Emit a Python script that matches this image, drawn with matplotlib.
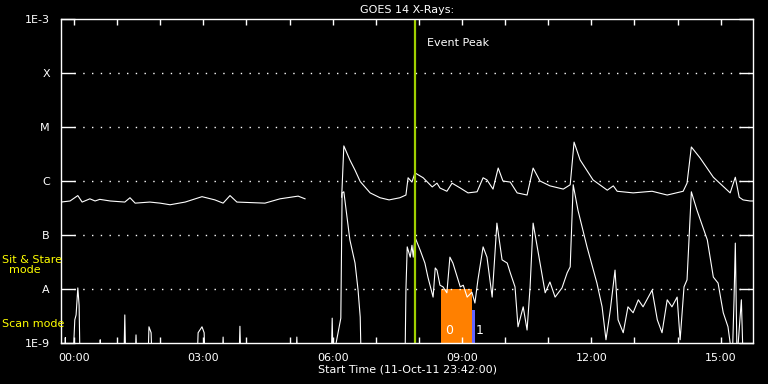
import numpy as np
import matplotlib
matplotlib.use("Agg")
import matplotlib.pyplot as plt
import matplotlib.patches as patches

# hours after 00:00 on 12-Oct (start is 23:42 the day before)
long_t1 = [-0.30, -0.09, 0.09, 0.19, 0.37, 0.49, 0.60, 0.84, 1.18, 1.30, 1.42, 1.76, 2.00,
           2.23, 2.58, 2.97, 3.27, 3.46, 3.62, 3.78, 4.43, 4.78, 5.20, 5.36]
long_f1 = [-6.39, -6.37, -6.27, -6.39, -6.33, -6.37, -6.34, -6.37, -6.39, -6.31, -6.41, -6.39, -6.41,
           -6.44, -6.39, -6.29, -6.35, -6.41, -6.27, -6.39, -6.41, -6.33, -6.28, -6.33]

long_t2 = [6.21, 6.26, 6.40, 6.52, 6.64, 6.87, 7.10, 7.31, 7.56, 7.70, 7.75, 7.84, 7.91, 8.10,
           8.31, 8.42, 8.49, 8.65, 8.77, 8.96, 9.14, 9.35, 9.49, 9.58, 9.72, 9.84, 9.95, 10.12,
           10.28, 10.51, 10.65, 10.81, 11.04, 11.35, 11.51, 11.60, 11.74, 12.04, 12.37, 12.51,
           12.60, 12.97, 13.41, 13.76, 14.13, 14.22, 14.32, 14.52, 14.83, 15.22, 15.34, 15.43,
           15.52, 15.68, 15.75]
long_f2 = [-6.30, -5.35, -5.61, -5.80, -6.01, -6.22, -6.31, -6.35, -6.31, -6.26, -5.94, -6.02,
           -5.85, -5.94, -6.11, -6.04, -6.13, -6.19, -6.04, -6.13, -6.22, -6.20, -5.94, -5.98,
           -6.15, -5.76, -6.00, -6.02, -6.22, -6.26, -5.76, -6.00, -6.09, -6.15, -6.07, -5.28,
           -5.61, -5.98, -6.17, -6.09, -6.19, -6.22, -6.19, -6.26, -6.19, -6.04, -5.37, -5.57,
           -5.93, -6.22, -5.93, -6.30, -6.35, -6.37, -6.37]

# short channel, -9.3 = below the plot floor
short_t = [-0.30, -0.21, -0.20, -0.19, -0.02, 0.02, 0.05, 0.09, 0.12, 0.14, 0.60, 0.61, 0.62,
           1.16, 1.18, 1.20, 1.42, 1.44, 1.46, 1.72, 1.74, 1.79, 1.81, 2.86, 2.88, 2.93, 2.97,
           3.02, 3.04, 3.44, 3.46, 3.48, 3.83, 3.85, 3.87, 5.15, 5.17, 5.19, 5.97, 5.99, 6.01,
           6.19, 6.22, 6.26, 6.40, 6.52, 6.59, 6.64, 6.66, 7.68, 7.70, 7.73, 7.80, 7.84, 7.87,
           7.91, 8.03, 8.14, 8.21, 8.33, 8.38, 8.42, 8.49, 8.56, 8.65, 8.72, 8.79, 8.89, 8.96,
           9.03, 9.12, 9.23, 9.30, 9.37, 9.49, 9.58, 9.70, 9.81, 9.93, 10.05, 10.12, 10.23,
           10.30, 10.42, 10.51, 10.58, 10.65, 10.81, 10.93, 11.04, 11.16, 11.32, 11.44, 11.51,
           11.58, 11.69, 11.90, 12.13, 12.25, 12.34, 12.44, 12.55, 12.62, 12.74, 12.85, 12.97,
           13.09, 13.20, 13.41, 13.53, 13.64, 13.76, 13.87, 13.99, 14.06, 14.15, 14.22, 14.32,
           14.45, 14.69, 14.83, 14.94, 15.06, 15.17, 15.27, 15.31, 15.34, 15.38, 15.48, 15.52,
           15.75]
short_f = [-9.3, -9.3, -8.90, -9.3, -9.3, -8.57, -8.48, -7.98, -8.30, -9.3, -9.3, -8.94, -9.3,
           -9.3, -8.48, -9.3, -9.3, -8.85, -9.3, -9.3, -8.70, -8.81, -9.3, -9.3, -8.81, -8.75,
           -8.70, -8.81, -9.3, -9.3, -8.89, -9.3, -9.3, -8.69, -9.3, -9.3, -8.89, -9.3, -9.3,
           -8.54, -9.3,
           -8.54, -6.22, -6.20, -7.09, -7.52, -8.02, -8.52, -9.3, -9.3, -8.02, -7.22, -7.41,
           -7.19, -7.41, -7.04, -7.28, -7.52, -7.78, -8.15, -7.61, -7.65, -7.93, -7.96, -8.07,
           -7.41, -7.52, -7.78, -7.96, -7.93, -8.15, -8.06, -8.26, -7.83, -7.22, -7.41, -8.15,
           -6.78, -7.46, -7.52, -7.70, -7.96, -8.70, -8.33, -8.76, -7.96, -6.78, -7.52, -8.07,
           -7.87, -8.15, -7.98, -7.70, -7.59, -6.07, -6.54, -7.22, -7.89, -8.33, -8.94, -8.39,
           -7.65, -8.57, -8.81, -8.33, -8.44, -8.20, -8.33, -8.02, -8.57, -8.81, -8.20, -8.33,
           -8.15, -8.94, -7.96, -7.83, -6.20, -6.54, -7.09, -7.78, -7.89, -8.44, -8.70, -9.3,
           -8.20, -7.15, -9.3, -8.20, -9.3, -9.3]

event_peak = 7.91
scan_blocks = [(8.52, 9.23, -8.0, '0', '#ff8000'), (9.23, 9.30, -8.39, '1', '#6464ff')]

t0, t1 = -0.30, 15.75
class_ticks = [-9, -8, -7, -6, -5, -4, -3]
class_labels = ['1E-9', 'A', 'B', 'C', 'M', 'X', '1E-3']

fig = plt.figure(figsize=(7.68, 3.84), dpi=100, facecolor='black')
ax = fig.add_axes([61/768, 41/384, 692/768, 324/384], facecolor='black')
ax.set_yscale('log')
ax.set_xlim(t0, t1)
ax.set_ylim(1e-9, 1e-3)

fs = 8
for lv in class_ticks[1:-1]:
    ax.plot([t0 + 0.3, t1], [10.0**lv, 10.0**lv], color='white', lw=1, ls=(0, (1, 5.3)))

for lo, hi, top, lab, col in scan_blocks:
    ax.add_patch(patches.Rectangle((lo, 1e-9), hi - lo, 10**top - 1e-9, facecolor=col, edgecolor='none'))
    ax.text(lo + 0.1 if lab == '0' else hi + 0.02, 10**-8.77, lab, color='white', fontsize=9,
            ha='left', va='center')

ax.plot(long_t1, 10**np.array(long_f1), color='white', lw=0.8)
ax.plot(long_t2, 10**np.array(long_f2), color='white', lw=0.8)
ax.plot(short_t, 10**np.array(short_f), color='white', lw=0.8)

ax.axvline(event_peak, color='#a0d000', lw=1.6)
ax.text(event_peak + 0.28, 10**-3.45, 'Event Peak', color='white', fontsize=fs, va='center')

for s in ax.spines.values():
    s.set_color('white')
    s.set_linewidth(1)

ax.set_yticks([10.0**v for v in class_ticks])
ax.set_yticklabels(class_labels)
ax.minorticks_off()
ax.tick_params(axis='y', which='major', direction='in', length=10, width=1, colors='white',
               labelsize=fs, right=True, pad=8)
hours = np.arange(0, 16)
ax.set_xticks(hours)
ax.set_xticklabels([('%02d:00' % h) if h % 3 == 0 else '' for h in hours])
ax.tick_params(axis='x', direction='in', length=4, width=1, colors='white', labelsize=fs,
               top=True, pad=7)

ax.set_title('GOES 14 X-Rays:', color='white', fontsize=fs, pad=4)
fig.text(408/768, 1 - 370/384, 'Start Time (11-Oct-11 23:42:00)', color='white', fontsize=fs,
         ha='center', va='center')
fig.text(2/768, 1 - 265/384, 'Sit & Stare\n  mode', color='yellow', fontsize=fs,
         ha='left', va='center', linespacing=1.0)
fig.text(2/768, 1 - 324/384, 'Scan mode', color='yellow', fontsize=fs, ha='left', va='center')

fig.savefig('out.png', dpi=100, facecolor='black')
